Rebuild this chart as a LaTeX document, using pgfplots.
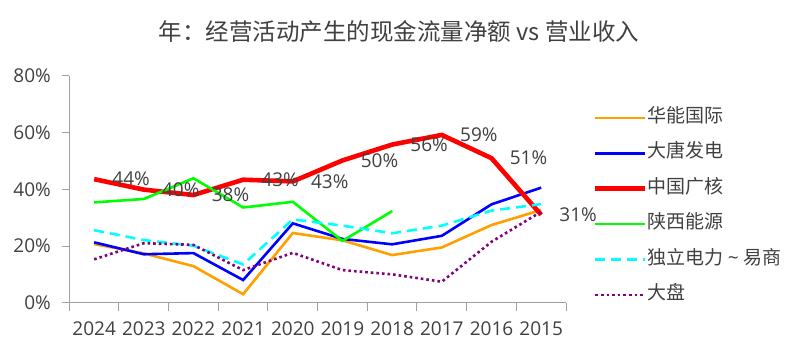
\documentclass[border=0pt]{standalone}
\usepackage{pgfplots}
\pgfplotsset{compat=1.18}
\usepackage{fontspec}
\setmainfont{Open Sans}
\newfontfamily\cjk{Noto Sans CJK SC}
\definecolor{txt}{RGB}{64,64,64}
\definecolor{axgray}{RGB}{160,160,160}
\definecolor{cOrange}{RGB}{255,160,0}
\definecolor{cBlue}{RGB}{0,0,255}
\definecolor{cRed}{RGB}{255,0,0}
\definecolor{cGreen}{RGB}{0,255,0}
\definecolor{cCyan}{RGB}{0,255,255}
\definecolor{cPurple}{RGB}{128,0,128}
\begin{document}
\begin{tikzpicture}
\begin{axis}[
  at={(0pt,0pt)}, anchor=south west,
  scale only axis, width=496.7pt, height=226.7pt,
  xmin=-0.5, xmax=9.5, ymin=0, ymax=80,
  clip=false,
  axis lines*=left,
  axis line style={axgray, line width=1pt},
  tick style={axgray, line width=1pt},
  tick align=outside,
  major tick length=7pt,
  minor tick length=8pt,
  xtick={0,...,9},
  xticklabels={2024,2023,2022,2021,2020,2019,2018,2017,2016,2015},
  major x tick style={draw=none},
  minor xtick={-0.5,0.5,...,9.5},
  ytick={0,20,40,60,80},
  yticklabel={\pgfmathprintnumber{\tick}\%},
  /pgf/number format/assume math mode=true,
  xticklabel style={font=\fontsize{19}{19}\selectfont, text=txt, yshift=-8pt},
  yticklabel style={font=\fontsize{19}{19}\selectfont, text=txt, xshift=-8pt},
  title={\cjk 年：经营活动产生的现金流量净额 vs 营业收入},
  title style={at={(axis description cs:0.664,1.1676)}, anchor=center, font=\fontsize{23.5}{23.5}\selectfont, text=txt},
  legend style={at={(axis description cs:1.0544,0.857)}, anchor=north west, draw=none, fill=none,
    inner sep=0pt, outer sep=0pt, row sep=16.4pt,
    font=\cjk\fontsize{19}{19}\selectfont, text=txt,
    nodes={inner sep=0pt, text height=14pt, text depth=5pt}},
  legend cell align=left,
  legend image code/.code={\draw[#1] (0pt,0pt) -- (46pt,0pt); \path (0pt,0pt) -- (50pt,0pt);},
]
\addplot[cOrange, line width=2.6pt] coordinates {(0,20.7) (1,17.4) (2,12.9) (3,3.0) (4,24.6) (5,22.0) (6,16.8) (7,19.5) (8,27.4) (9,32.7)};
\addlegendentry{华能国际}
\addplot[cBlue, line width=2.6pt] coordinates {(0,21.3) (1,17.1) (2,17.5) (3,8.0) (4,28.0) (5,22.5) (6,20.6) (7,23.6) (8,34.7) (9,40.6)};
\addlegendentry{大唐发电}
\addplot[cRed, line width=4.6pt,
  nodes near coords={\pgfmathprintnumber[fixed,precision=0]{\pgfplotspointmeta}\%},
  point meta=y,
  every node near coord/.append style={anchor=west, xshift=16pt, inner sep=0pt, text=txt, font=\fontsize{19}{19}\selectfont, /pgf/number format/assume math mode=true}]
  coordinates {(0,43.6) (1,39.9) (2,38.0) (3,43.4) (4,42.8) (5,50.2) (6,55.8) (7,59.2) (8,51.0) (9,31.0)};
\addlegendentry{中国广核}
\addplot[cGreen, line width=2.6pt] coordinates {(0,35.4) (1,36.6) (2,43.9) (3,33.6) (4,35.6) (5,21.8) (6,32.3)};
\addlegendentry{陕西能源}
\addplot[cCyan, line width=2.6pt, dash pattern=on 10pt off 6pt] coordinates {(0,25.6) (1,22.1) (2,20.1) (3,13.5) (4,29.4) (5,27.2) (6,24.5) (7,27.2) (8,32.5) (9,34.8)};
\addlegendentry{独立电力 {\fontspec{Open Sans}\textasciitilde} 易商}
\addplot[cPurple, line width=2.6pt, dash pattern=on 2.6pt off 3pt] coordinates {(0,15.3) (1,21.0) (2,20.4) (3,11.5) (4,17.6) (5,11.5) (6,10.0) (7,7.4) (8,21.5) (9,32.1)};
\addlegendentry{大盘}
\end{axis}
\pgfresetboundingbox
\path[use as bounding box] (-69.3pt,-50.3pt) rectangle (730.7pt,302.7pt);
\end{tikzpicture}
\end{document}
